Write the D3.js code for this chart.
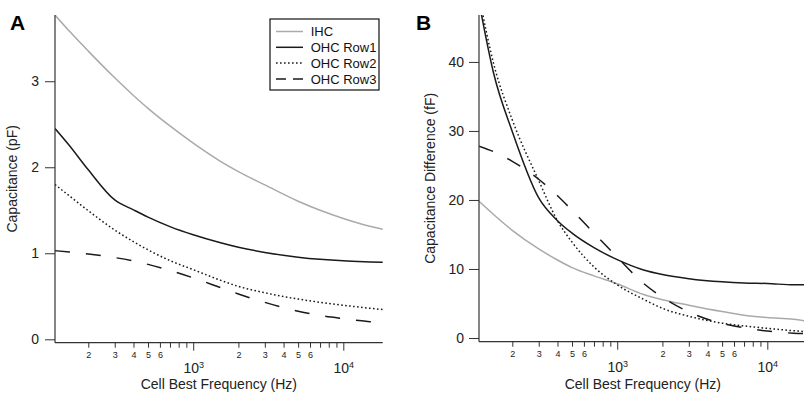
<!DOCTYPE html>
<meta charset="utf-8">
<style>
body { margin: 0; background: #fff; }
svg { font-family: "Liberation Sans", Arial, Helvetica, sans-serif; }
.curve { fill: none; stroke-width: 1.5; }
.tick line { stroke: #333; }
.tick text { fill: #222; }
.frame { stroke: #333; stroke-width: 1.2; }
</style>
<svg id="chart" width="804" height="393"></svg>
<script src="https://d3js.org/d3.v7.min.js"></script>
<script>

// cell best frequency (Hz) where every curve is read
var freqs = [120, 150, 200, 300, 400, 500, 700, 1000, 1500, 2000, 3000, 5000, 7000, 10000, 15000, 18300];

// panel A: capacitance (pF)
var ihcA  = [3.77, 3.58, 3.35, 3.04, 2.835, 2.685, 2.48, 2.28, 2.075, 1.95, 1.795, 1.605, 1.50, 1.405, 1.315, 1.28];
var row1A = [2.45, 2.25, 1.97, 1.62, 1.505, 1.42, 1.31, 1.215, 1.125, 1.07, 1.01, 0.955, 0.93, 0.912, 0.90, 0.895];
var row2A = [1.80, 1.665, 1.495, 1.27, 1.135, 1.04, 0.915, 0.81, 0.69, 0.615, 0.541, 0.468, 0.43, 0.396, 0.361, 0.346];
var row3A = [1.03, 1.015, 0.992, 0.95, 0.91, 0.871, 0.801, 0.714, 0.605, 0.527, 0.429, 0.327, 0.277, 0.24, 0.205, 0.188];

// panel B: capacitance difference (fF)
var ihcB  = [19.8, 17.9, 15.6, 12.9, 11.3, 10.2, 9.0, 7.85, 6.3, 5.54, 4.75, 3.83, 3.3, 2.97, 2.7, 2.45];
var row1B = [48.7, 38.4, 29.9, 20.3, 17.0, 15.2, 13.1, 11.35, 9.85, 9.2, 8.6, 8.14, 7.97, 7.9, 7.7, 7.7];
var row2B = [49.6, 39.8, 31.6, 22.8, 17.0, 13.9, 10.3, 7.7, 5.6, 4.3, 3.15, 2.15, 1.75, 1.4, 1.05, 0.9];
var row3B = [27.8, 27.0, 25.6, 23.0, 20.6, 18.5, 15.2, 11.7, 7.9, 5.9, 3.78, 2.1, 1.48, 1.0, 0.7, 0.65];

var seriesNames = ["IHC", "OHC Row1", "OHC Row2", "OHC Row3"];
var yTicksA = [0, 1, 2, 3];
var yTicksB = [0, 10, 20, 30, 40];
var minorTicks = [200, 300, 400, 500, 600, 700, 800, 900, 2000, 3000, 4000, 5000, 6000, 7000, 8000, 9000];
var labelledMinor = [200, 300, 400, 500, 600, 2000, 3000, 4000, 5000, 6000];
var majorTicks = [1000, 10000];

var styles = [
  {color: "#aaaaaa", dash: null, legendDash: null},
  {color: "#1a1a1a", dash: null, legendDash: null},
  {color: "#1a1a1a", dash: "1.6,2.4", legendDash: "1.6,2.4"},
  {color: "#1a1a1a", dash: "15,16", legendDash: "10,7"}
];

var svg = d3.select("svg");

function panel(opts) {
  var x = d3.scaleLog().domain([120, 18300]).range([opts.left, opts.left + 327.7]);
  var y = d3.scaleLinear().domain([0, opts.ymax]).range([opts.zero, 15]);
  var g = svg.append("g");

  g.append("clipPath").attr("id", opts.id + "clip")
    .append("rect")
      .attr("x", opts.left).attr("y", 15)
      .attr("width", 340).attr("height", opts.bottom - 15);

  // curves
  var line = d3.line()
      .x(function(d) { return x(d[0]); })
      .y(function(d) { return y(d[1]); })
      .curve(d3.curveMonotoneX);

  opts.series.forEach(function(vals, i) {
    g.append("path")
      .attr("class", "curve")
      .attr("clip-path", "url(#" + opts.id + "clip)")
      .attr("d", line(freqs.map(function(f, j) { return [f, vals[j]]; })))
      .style("stroke", styles[i].color)
      .style("stroke-dasharray", styles[i].dash);
  });

  // y axis
  g.append("g")
      .attr("transform", "translate(" + opts.left + ",0)")
      .call(d3.axisLeft(y).tickValues(opts.yticks).tickFormat(d3.format("d"))
        .tickSize(10).tickPadding(opts.ypad).tickSizeOuter(0))
      .call(function(a) { a.select(".domain").remove(); })
      .selectAll("text").style("font-size", "14px");

  // x axis: minor ticks
  g.append("g")
      .attr("transform", "translate(0," + opts.bottom + ")")
      .call(d3.axisBottom(x).tickValues(minorTicks).tickSize(5).tickPadding(4.2).tickSizeOuter(0)
        .tickFormat(function(d) {
          return labelledMinor.indexOf(d) >= 0 ? String(d).charAt(0) : "";
        }))
      .call(function(a) { a.select(".domain").remove(); })
      .selectAll("text").style("font-size", "9px");

  // x axis: decades
  var maj = g.append("g")
      .attr("transform", "translate(0," + opts.bottom + ")")
      .call(d3.axisBottom(x).tickValues(majorTicks).tickSize(8).tickPadding(12.5).tickSizeOuter(0)
        .tickFormat(""))
      .call(function(a) { a.select(".domain").remove(); });
  maj.selectAll(".tick text").each(function(d) {
    var t = d3.select(this).style("font-size", "14px");
    t.append("tspan").text("10");
    t.append("tspan").attr("dy", "-0.55em").style("font-size", "9px").text(Math.round(Math.log10(d)));
  });

  // frame lines
  g.append("line").attr("class", "frame")
      .attr("x1", opts.left).attr("x2", opts.left)
      .attr("y1", 15).attr("y2", opts.bottom);
  g.append("line").attr("class", "frame")
      .attr("x1", opts.left).attr("x2", opts.left + 327.7)
      .attr("y1", opts.bottom).attr("y2", opts.bottom);

  // axis titles
  var cx = opts.left + 327.7 / 2;
  g.append("text")
      .attr("x", cx).attr("y", 389)
      .attr("text-anchor", "middle")
      .style("font-size", "14px").style("fill", "#222")
      .text("Cell Best Frequency (Hz)");

  g.append("text")
      .attr("transform", "translate(" + opts.ylabelX + "," + ((15 + opts.bottom) / 2) + ") rotate(-90)")
      .attr("text-anchor", "middle")
      .style("font-size", "14px").style("fill", "#222")
      .text(opts.ylabel);

  g.append("text")
      .attr("x", opts.letterX).attr("y", 30)
      .style("font-size", "21px").style("font-weight", "bold")
      .text(opts.letter);
}

panel({id: "a", left: 55, bottom: 342.7, zero: 339.3, ymax: 3.77, yticks: yTicksA, ypad: 6,
       series: [ihcA, row1A, row2A, row3A], ylabel: "Capacitance (pF)", ylabelX: 17,
       letter: "A", letterX: 10});

panel({id: "b", left: 479, bottom: 341.7, zero: 338, ymax: 46.8, yticks: yTicksB, ypad: 5,
       series: [ihcB, row1B, row2B, row3B], ylabel: "Capacitance Difference (fF)", ylabelX: 435,
       letter: "B", letterX: 416});

// legend
var legend = svg.append("g").attr("transform", "translate(270,19)");
legend.append("rect")
    .attr("width", 109).attr("height", 71)
    .style("fill", "#fff").style("stroke", "#111").style("stroke-width", 1.2);

var rows = legend.selectAll(".row")
    .data(seriesNames)
  .enter().append("g")
    .attr("transform", function(d, i) { return "translate(0," + (12.5 + i * 15.8) + ")"; });

rows.append("line")
    .attr("x1", 6).attr("x2", 33)
    .style("stroke", function(d, i) { return styles[i].color; })
    .style("stroke-width", 1.5)
    .style("stroke-dasharray", function(d, i) { return styles[i].legendDash; });

rows.append("text")
    .attr("x", 40.7).attr("dy", "0.36em")
    .style("font-size", "13px").style("fill", "#111")
    .text(function(d) { return d; });

</script>
